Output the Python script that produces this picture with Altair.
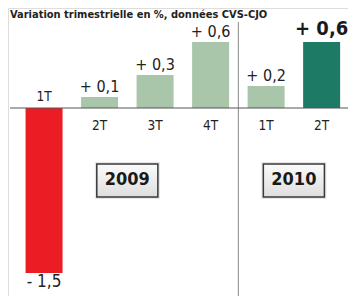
import altair as alt
import pandas as pd

# ---- data ----
years = ["2009", "2009", "2009", "2009", "2010", "2010"]
quarters = ["1T", "2T", "3T", "4T", "1T", "2T"]
values = [-1.5, 0.1, 0.3, 0.6, 0.2, 0.6]
value_labels = ["- 1,5", "+ 0,1", "+ 0,3", "+ 0,6", "+ 0,2", "+ 0,6"]
kinds = ["baisse", "hausse", "hausse", "hausse", "hausse", "dernier"]
year_names = ["2009", "2010"]
title_text = "Variation trimestrielle en %, données CVS-CJO"

FONT = "DejaVu Sans Condensed, sans-serif"
W, H = 340, 288

df = pd.DataFrame({"year": years, "q": quarters, "v": values,
                   "lab": value_labels, "kind": kinds})
df["i"] = list(range(len(df)))

xs = alt.Scale(domain=[-0.5594, 5.385], nice=False, zero=False)
ys = alt.Scale(domain=[-1.7091, 0.9091], nice=False, zero=False)
X = alt.X("i:Q", scale=xs, axis=None)
Y = alt.Y("v:Q", scale=ys, axis=None)
Y0 = alt.Y("zero:Q", scale=ys, axis=None)

base = alt.Chart(df)

bars = base.mark_bar(width=37).encode(
    x=X, y=Y, y2=alt.datum(0),
    color=alt.Color("kind:N", legend=None,
                    scale=alt.Scale(domain=["baisse", "hausse", "dernier"],
                                    range=["#EC1C24", "#A9C6AA", "#1D7A64"])),
)

zero_line = alt.Chart(pd.DataFrame({"zero": [0]})).mark_rule(
    color="#555555", strokeWidth=1
).encode(y=Y0, x=alt.value(2), x2=alt.value(W))

# separator between the two years (midpoint between last 2009 and first 2010 quarter)
sep = base.transform_aggregate(
    a="max(i)", groupby=["year"]
).transform_filter("datum.year == '2009'").transform_calculate(
    s="datum.a + 0.5"
).mark_rule(color="#8a8a8a", strokeWidth=1).encode(
    x=alt.X("s:Q", scale=xs, axis=None),
    y=alt.value(14), y2=alt.value(H),
)

lab_pos = base.transform_filter("datum.kind == 'hausse'").mark_text(
    font=FONT, fontSize=16, baseline="alphabetic", dy=-5, color="#222222"
).encode(x=X, y=Y, text="lab:N")

lab_last = base.transform_filter("datum.kind == 'dernier'").mark_text(
    font=FONT, fontSize=20, fontWeight="bold", baseline="alphabetic", dy=-7, color="#1a1a1a"
).encode(x=X, y=Y, text="lab:N")

lab_neg = base.transform_filter("datum.v < 0").mark_text(
    font=FONT, fontSize=17, baseline="top", dy=1, color="#222222"
).encode(x=X, y=Y, text="lab:N")

tick_pos = base.transform_filter("datum.v >= 0").transform_calculate(zero="0").mark_text(
    font=FONT, fontSize=13.5, baseline="top", dy=11, color="#222222"
).encode(x=X, y=Y0, text="q:N")

tick_neg = base.transform_filter("datum.v < 0").transform_calculate(zero="0").mark_text(
    font=FONT, fontSize=13.5, baseline="alphabetic", dy=-7, color="#222222"
).encode(x=X, y=Y0, text="q:N")

# year boxes centred under each year's quarters
yb = base.transform_aggregate(c="mean(i)", groupby=["year"]).transform_calculate(
    x1="datum.c - 0.55", x2="datum.c + 0.55", yt="-0.509", yb="-0.809", ym="-0.659"
)
box_shadow = yb.mark_rect(fill="#e4e4e4", stroke="#e0e0e0", strokeWidth=4, opacity=0.8).encode(
    x=alt.X("x1:Q", scale=xs, axis=None), x2="x2:Q",
    y=alt.Y("yt:Q", scale=ys, axis=None), y2="yb:Q",
)
box = yb.mark_rect(
    fill=alt.Gradient(gradient="linear", x1=0, y1=0, x2=0, y2=1,
                      stops=[alt.GradientStop(color="#fbfbfb", offset=0),
                             alt.GradientStop(color="#dedede", offset=1)]),
    stroke="#3a3a3a", strokeWidth=1.5,
).encode(
    x=alt.X("x1:Q", scale=xs, axis=None), x2="x2:Q",
    y=alt.Y("yt:Q", scale=ys, axis=None), y2="yb:Q",
)
box_text = yb.mark_text(
    font=FONT, fontSize=18, fontWeight="bold", baseline="middle", color="#1a1a1a"
).encode(x=alt.X("c:Q", scale=xs, axis=None), y=alt.Y("ym:Q", scale=ys, axis=None), text="year:N")

title = alt.Chart(pd.DataFrame({"t": [title_text]})).mark_text(
    font=FONT, fontSize=11, fontWeight="bold", baseline="alphabetic", align="left", color="#222222"
).encode(x=alt.value(2), y=alt.value(10), text="t:N")

chart = alt.layer(
    sep, bars, zero_line, lab_pos, lab_last, lab_neg, tick_pos, tick_neg,
    box_shadow, box, box_text, title
).properties(
    width=W, height=H, padding=0, autosize=alt.AutoSizeParams(type="none")
).configure_view(stroke=None).configure(background="white")

chart.save("out.html", embed_options={"renderer": "svg", "actions": False})
